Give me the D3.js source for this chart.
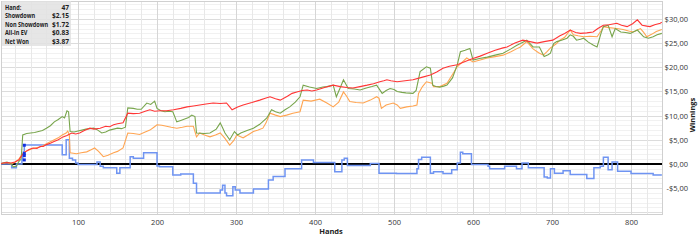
<!DOCTYPE html>
<html>
<head>
<meta charset="utf-8">
<script src="https://cdn.jsdelivr.net/npm/d3@7"></script>
<style>
  body { margin: 0; background: #fff; }
  svg { display: block; font-family: "Open Sans", "DejaVu Sans", sans-serif; }
</style>
</head>
<body>
<svg id="chart" width="700" height="241"></svg>
<script>
// hand / value pairs
const netWon = [[0,0],[5,0.2],[10,0.4],[15,0.1],[18,-0.6],[22,-0.5],[25,0.5],[28,1],[30,6.0],[35,6.3],[40,6.4],[45,6.5],[50,6.7],[55,6.9],[60,7.4],[65,7.9],[70,8.7],[75,9.2],[80,9.8],[83,9.5],[86,11.0],[88,10.8],[90,6.7],[95,6.6],[100,6.8],[105,7.0],[110,7.2],[115,7.3],[120,7.4],[125,7.0],[130,6.4],[135,6.6],[140,7.0],[145,7.2],[150,7.4],[155,7.3],[160,7.6],[163,11.6],[170,11.5],[175,11.3],[180,11.3],[187,12.6],[192,12.3],[197,13.0],[200,11.5],[205,11.0],[210,10.8],[215,10.9],[220,10.8],[225,8.7],[230,9.0],[235,9.3],[240,9.6],[244,10.1],[248,9.8],[250,6.4],[260,6.3],[267,6.4],[275,7.2],[280,8.5],[283,7.5],[286,6.4],[292,5.0],[298,6.7],[302,6.0],[306,6.4],[314,6.9],[322,7.4],[330,8.2],[339,9.5],[345,11.2],[350,10.8],[356,10.5],[362,11.2],[368,11.8],[375,12.8],[381,13.9],[385,16.3],[393,15.9],[402,15.6],[410,15.9],[415,16.0],[423,16.3],[427,13.9],[432,15.8],[436,17.4],[442,15.6],[450,15.5],[457,15.3],[465,15.7],[472,16.0],[478,16.3],[485,14.6],[490,15.2],[495,15.6],[500,15.4],[504,15.0],[510,14.8],[515,14.7],[524,14.6],[528,15.2],[533,19.1],[541,20.1],[546,19.8],[549,16.3],[553,16.0],[558,15.9],[563,16.1],[567,16.3],[574,17.8],[580,20.5],[584,23.2],[590,23.5],[596,23.9],[600,21.5],[608,21.8],[618,22.1],[628,22.5],[638,22.9],[648,23.8],[655,24.5],[660,24.9],[668,25.6],[676,24.2],[684,24.2],[690,22.2],[695,22.6],[698,22.9],[702,24.9],[706,25.3],[712,25.6],[719,26.0],[723,26.7],[727,26.4],[731,25.6],[736,25.8],[740,26.0],[746,25.2],[752,24.6],[757,24.2],[762,27.0],[765,28.4],[771,28.7],[776,26.3],[780,28.0],[787,27.3],[793,27.2],[799,27.0],[808,27.7],[816,26.3],[822,26.0],[828,26.3],[833,26.7],[839,27.0]];

const nonShowdown = [[0,0],[5,0.2],[10,0.3],[15,0.2],[20,0.4],[25,0.8],[30,2.0],[33,2.5],[38,3.0],[43,3.3],[48,3.2],[52,3.6],[56,3.6],[60,4.0],[65,4.3],[69,4.6],[75,5.0],[81,5.6],[86,5.9],[92,6.4],[97,6.2],[102,6.4],[108,6.9],[115,7.4],[120,7.2],[128,7.4],[135,7.8],[140,7.7],[145,8.1],[150,8.3],[157,8.5],[163,10.5],[170,10.4],[178,10.5],[185,10.9],[191,11.2],[197,10.9],[204,11.0],[212,11.0],[221,11.2],[230,11.5],[238,11.8],[246,12.0],[254,12.2],[262,12.4],[271,12.6],[280,12.5],[288,12.6],[292,11.8],[295,11.2],[302,11.8],[309,12.2],[320,12.7],[330,13.2],[337,13.6],[343,13.9],[350,13.5],[356,13.2],[365,14.0],[371,14.6],[377,14.9],[384,15.2],[390,15.3],[396,15.1],[402,15.3],[412,15.8],[423,16.3],[432,16.0],[440,15.8],[448,15.7],[457,16.0],[466,16.3],[474,16.6],[482,17.0],[487,17.2],[491,17.4],[496,17.2],[504,17.0],[514,17.2],[524,17.4],[535,17.9],[546,18.4],[554,19.0],[562,19.8],[570,20.2],[580,20.5],[590,21.2],[600,21.8],[609,22.3],[618,22.9],[628,23.5],[638,24.0],[643,24.2],[653,25.0],[663,25.6],[672,25.3],[681,25.0],[690,25.3],[701,25.6],[710,26.5],[716,27.0],[723,27.7],[730,27.2],[736,27.0],[744,27.1],[752,27.3],[758,28.0],[765,28.7],[772,28.8],[782,29.1],[788,28.7],[795,28.4],[802,29.0],[808,29.8],[814,28.7],[820,28.5],[824,28.4],[830,28.8],[837,29.1],[839,29.3]];

const allInEV = [[0,0],[5,0.1],[10,0.3],[15,0.0],[20,0.3],[25,1.0],[30,2.2],[33,2.5],[38,2.9],[43,3.2],[48,3.4],[52,3.5],[56,3.8],[60,4.2],[65,4.6],[70,5.0],[75,5.4],[80,6.0],[85,6.4],[87,6.8],[89,6.0],[90,2.3],[94,2.2],[98,2.1],[104,2.3],[111,2.5],[116,2.9],[121,3.3],[126,2.6],[132,1.5],[138,1.8],[145,2.3],[150,2.6],[157,3.3],[163,6.4],[170,6.3],[178,6.1],[185,6.6],[191,7.0],[196,7.6],[200,8.1],[206,8.0],[212,7.8],[218,7.6],[225,7.4],[232,7.6],[238,7.8],[246,7.8],[250,5.6],[254,6.4],[260,6.0],[267,5.6],[274,6.0],[280,6.4],[286,5.3],[292,3.9],[297,4.8],[301,6.0],[305,5.7],[309,5.4],[315,6.0],[322,6.7],[328,7.0],[334,7.4],[338,8.5],[343,10.5],[350,10.1],[356,9.8],[364,10.1],[372,10.5],[381,10.8],[385,13.2],[395,13.0],[406,13.4],[415,12.6],[423,11.8],[430,12.8],[436,14.9],[440,14.0],[444,12.9],[452,12.7],[461,12.6],[470,13.2],[478,13.9],[481,13.6],[484,11.5],[490,12.2],[499,12.6],[504,12.2],[508,11.5],[516,11.8],[524,12.0],[529,12.2],[531,14.6],[536,16.0],[541,17.0],[548,16.7],[550,16.0],[558,16.0],[567,16.7],[574,18.5],[580,20.1],[586,21.0],[592,21.9],[600,21.1],[609,21.5],[618,21.9],[628,22.2],[638,22.5],[648,23.2],[655,23.8],[660,24.2],[668,25.3],[676,23.8],[683,23.0],[689,22.5],[694,23.3],[698,24.0],[705,24.8],[710,25.6],[716,26.2],[723,27.7],[727,26.7],[733,26.5],[740,26.3],[748,26.4],[757,26.3],[762,27.5],[765,28.4],[772,28.2],[782,28.0],[790,27.8],[797,27.5],[803,27.3],[808,27.7],[812,28.0],[816,27.2],[820,26.3],[826,26.8],[832,27.4],[839,27.8]];

const showdown = [[0,0],[16,-0.8],[22,0],[29,0.8],[30,1.9],[31,2.5],[32,3.9],[79,3.9],[80,1.9],[85,5.0],[89,1.2],[93,0.8],[97,0.2],[100,-0.1],[124,0.4],[128,-0.5],[132,-0.8],[149,-1.9],[153,-0.8],[166,1.5],[170,1.2],[183,2.3],[200,-0.4],[203,-0.6],[220,-2.3],[230,-2.1],[246,-4.0],[250,-6.0],[280,-5.4],[283,-4.4],[286,-6.0],[288,-6.6],[296,-4.7],[299,-5.4],[305,-6.0],[322,-5.2],[341,-3.3],[347,-2.6],[362,-1.0],[383,0.8],[398,0.3],[425,-1.6],[434,0.8],[437,1.2],[441,-0.3],[470,0.1],[481,-1.9],[503,-2.0],[529,-1.0],[531,0.9],[535,1.4],[546,-1.9],[550,-1.6],[562,-2.0],[573,-1.2],[580,0.2],[584,2.4],[587,2.1],[598,-0.1],[619,-0.5],[621,-1.0],[640,-0.5],[655,-1.0],[662,0.2],[670,-0.8],[690,-2.7],[694,-2.9],[698,-1.0],[703,-1.9],[714,-1.4],[723,-2.2],[744,-3.0],[753,-0.8],[761,-0.5],[765,1.4],[771,-1.2],[776,0.4],[783,-1.5],[800,-2.0],[828,-2.3],[839,-2.3]];

// hover box
const tipLabels = ["Hand:", "Showdown", "Non Showdown", "All-in EV", "Net Won"];
const tipValues = ["47", "$2.15", "$1.72", "$0.83", "$3.87"];
const markerHand = 32;
const markerValues = [3.87, 2.15, 1.72, 0.83];

const xTicks = [100, 200, 300, 400, 500, 600, 700, 800];
const yTicks = [-5, 0, 5, 10, 15, 20, 25, 30];

const svg = d3.select("#chart");
const plotLeft = 1, plotRight = 662, plotTop = 1, plotBottom = 214;

const x = d3.scaleLinear().domain([2.5, 839.2]).range([plotLeft, plotRight]);
const y = d3.scaleLinear().domain([-10.35, 33.7]).range([plotBottom, plotTop]);

// grid
const grid = svg.append("g");
grid.selectAll("line.h").data(d3.range(-10, 34, 1))
  .enter().append("line")
  .attr("x1", plotLeft).attr("x2", plotRight)
  .attr("y1", d => Math.round(y(d)) + 0.5).attr("y2", d => Math.round(y(d)) + 0.5)
  .attr("stroke", d => d % 5 == 0 ? "#dcdcdc" : "#f1f1f1");
grid.selectAll("line.v").data(d3.range(20, 840, 20))
  .enter().append("line")
  .attr("y1", plotTop).attr("y2", plotBottom)
  .attr("x1", d => Math.round(x(d)) + 0.5).attr("x2", d => Math.round(x(d)) + 0.5)
  .attr("stroke", d => d % 100 == 0 ? "#d6d6d6" : "#e8e8e8");
svg.append("rect")
  .attr("x", plotLeft + 0.5).attr("y", plotTop + 0.5)
  .attr("width", plotRight - plotLeft).attr("height", plotBottom - plotTop)
  .attr("fill", "none").attr("stroke", "#d0d0d0");

svg.append("defs").append("clipPath").attr("id", "clip")
  .append("rect").attr("x", plotLeft).attr("y", plotTop)
  .attr("width", plotRight - plotLeft).attr("height", plotBottom - plotTop);

// zero line
svg.append("line")
  .attr("x1", plotLeft).attr("x2", plotRight)
  .attr("y1", y(0)).attr("y2", y(0))
  .attr("stroke", "#000").attr("stroke-width", 2);

const lines = svg.append("g").attr("clip-path", "url(#clip)");
const line = d3.line().x(d => x(d[0])).y(d => y(d[1]));
const stepLine = d3.line().x(d => x(d[0])).y(d => y(d[1])).curve(d3.curveStepAfter);

lines.append("path").datum(showdown).attr("d", stepLine)
  .attr("fill", "none").attr("stroke", "#6f94f2").attr("stroke-width", 1.5);
lines.append("path").datum(allInEV).attr("d", line)
  .attr("fill", "none").attr("stroke", "#ffa552").attr("stroke-width", 1.1);
lines.append("path").datum(netWon).attr("d", line)
  .attr("fill", "none").attr("stroke", "#78a54c").attr("stroke-width", 1.1);
lines.append("path").datum(nonShowdown).attr("d", line)
  .attr("fill", "none").attr("stroke", "#ff3535").attr("stroke-width", 1.1);

lines.selectAll("rect.mk").data(markerValues)
  .enter().append("rect")
  .attr("x", x(markerHand) - 1.5).attr("y", d => y(d) - 1.5)
  .attr("width", 3).attr("height", 3)
  .attr("fill", "#1030e0");

// axes
const xAxis = svg.append("g").attr("transform", "translate(0," + plotBottom + ")")
  .call(d3.axisBottom(x).tickValues(xTicks).tickSize(0).tickPadding(6));
xAxis.select(".domain").remove();
xAxis.selectAll("text").attr("font-size", 7.5).attr("fill", "#333")
  .attr("font-family", "Open Sans, DejaVu Sans, sans-serif");

const fmt = d => (d < 0 ? "-$" : "$") + Math.abs(d).toFixed(2).replace(".", ",");
const yAxis = svg.append("g").attr("transform", "translate(688,0)")
  .call(d3.axisLeft(y).tickValues(yTicks).tickSize(0).tickPadding(0).tickFormat(fmt));
yAxis.select(".domain").remove();
yAxis.selectAll("text").attr("font-size", 7.5).attr("fill", "#333")
  .attr("font-family", "Open Sans, DejaVu Sans, sans-serif");

svg.append("text").text("Hands")
  .attr("x", 331).attr("y", 234)
  .attr("text-anchor", "middle").attr("font-size", 7.5).attr("font-weight", "bold").attr("fill", "#222");
svg.append("text").text("Winnings")
  .attr("transform", "translate(695,115) rotate(-90)")
  .attr("text-anchor", "middle").attr("font-size", 7.5).attr("font-weight", "bold").attr("fill", "#222");

// hover box
const tip = svg.append("g");
tip.append("rect")
  .attr("x", 2).attr("y", 1).attr("width", 69).attr("height", 45)
  .attr("fill", "#e2e2e2").attr("fill-opacity", 0.85);
// labels squeezed a little so they fit like the narrow UI font
tip.append("g").attr("transform", "translate(5,0) scale(0.84,1)")
  .selectAll("text").data(tipLabels)
  .enter().append("text")
  .attr("x", 0).attr("y", (d, i) => 10 + i * 8.4)
  .attr("font-size", 6.6).attr("font-weight", "bold").attr("fill", "#222")
  .text(d => d);
tip.selectAll("text.v").data(tipValues)
  .enter().append("text")
  .attr("class", "v")
  .attr("x", 69).attr("y", (d, i) => 10 + i * 8.4)
  .attr("text-anchor", "end")
  .attr("font-size", 6.6).attr("font-weight", "bold").attr("fill", "#222")
  .text(d => d);
</script>
</body>
</html>
